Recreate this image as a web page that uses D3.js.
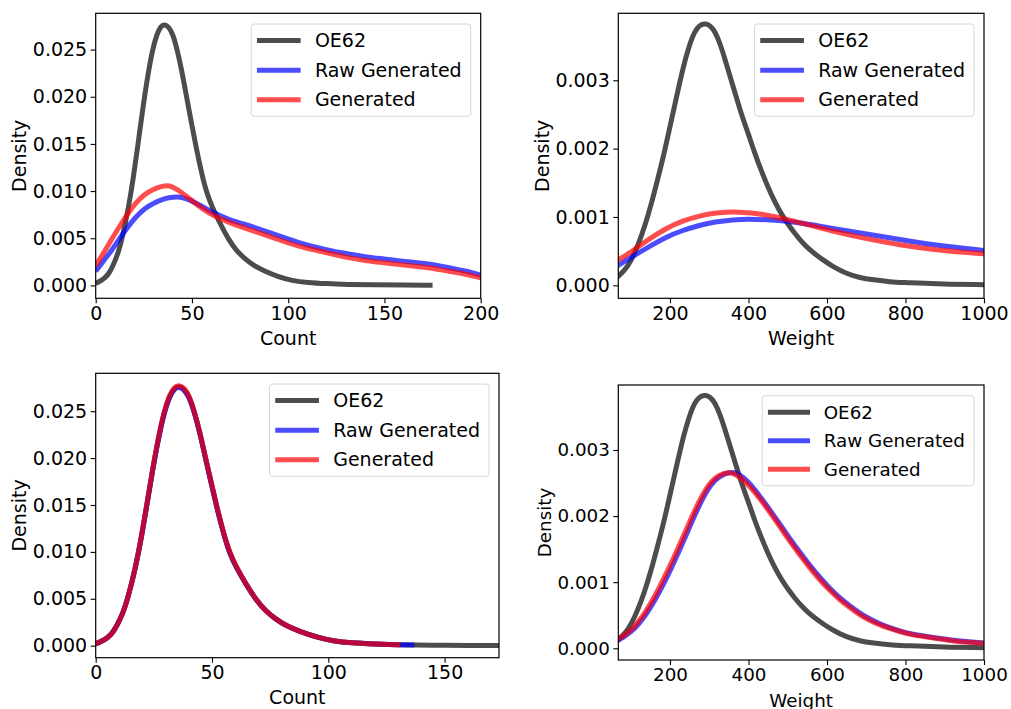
<!DOCTYPE html>
<html>
<head>
<meta charset="utf-8">
<script src="https://cdn.jsdelivr.net/npm/d3@7"></script>
<style>
  html, body { margin: 0; padding: 0; background: #fff; }
  svg { display: block; }
  svg text { font-family: "DejaVu Sans", sans-serif; }
</style>
</head>
<body>
<div id="chart"></div>
<script>
// series names + colours of the legend
const seriesNames = ["OE62", "Raw Generated", "Generated"];
const seriesColors = ["#000000", "#0000ff", "#ff0000"];

// tick values
const countTicksA = [0, 50, 100, 150, 200];
const countTicksC = [0, 50, 100, 150];
const weightTicks = [200, 400, 600, 800, 1000];
const countDensityTicks = [0, 0.005, 0.010, 0.015, 0.020, 0.025];
const weightDensityTicks = [0, 0.001, 0.002, 0.003];

// OE62 density of atom count
const countOE62 = [[0,0.0002],[3,0.0005],[6.6,0.0011],[9,0.0021],[11.5,0.0033],[14,0.0052],[17,0.0082],[19.5,0.0113],
  [22,0.0150],[24.5,0.0188],[27,0.0222],[29.5,0.0250],[31.7,0.0266],[33.8,0.0275],[35.8,0.0277],[38,0.0274],
  [40.2,0.0266],[42.4,0.0249],[44.6,0.0229],[47,0.0202],[49.5,0.0175],[52,0.0148],[55,0.0119],[57.5,0.0099],
  [60.3,0.0084],[64.5,0.0066],[68.9,0.0049],[73,0.0037],[77.6,0.0028],[82,0.0021],[87.9,0.0015],[95,0.0009],
  [102,0.0005],[110,0.0003],[120,0.00018],[130,0.0001],[145,0.00005],[160,0.00003],[175,0.00002]];

// top-left: raw generated / generated count density
const countRawA = [[0,0.0015],[4,0.0026],[8.3,0.0037],[12.5,0.0050],[17,0.0063],[21,0.0073],[25.6,0.0082],[30,0.0087],
  [34.3,0.0091],[38,0.0093],[42.1,0.0094],[46,0.0093],[51.6,0.0088],[56,0.0083],[60.3,0.0078],[64.5,0.0074],
  [68.9,0.0070],[77,0.0065],[86.2,0.0059],[97,0.0051],[106.1,0.0045],[115,0.0040],[123.5,0.0036],[132,0.0033],
  [140.8,0.0030],[150,0.0028],[158,0.0026],[167,0.0024],[175.4,0.0022],[183,0.0019],[190,0.0016],[195,0.0014],
  [200,0.0011]];
const countGenA = [[0,0.0021],[4,0.0034],[8.3,0.0049],[12.5,0.0063],[17,0.0077],[21,0.0088],[25.6,0.0097],[30,0.0102],
  [34.3,0.0105],[37,0.0106],[39.5,0.0105],[43,0.0101],[48.1,0.0093],[53,0.0085],[58.5,0.0077],[63.5,0.0072],
  [68.9,0.0067],[77,0.0061],[86.2,0.0055],[97,0.0047],[106,0.0041],[115,0.0037],[123.5,0.0033],[132,0.0029],
  [140.8,0.0026],[150,0.0024],[158,0.0022],[167,0.0020],[175.4,0.0018],[183,0.0015],[190,0.0013],[195,0.00105],
  [200,0.0008]];

// bottom-left: after fitting, nearly on top of OE62
const countRawC = [[0,0.0002],[3,0.0005],[6.6,0.0011],[9,0.0021],[11.5,0.0033],[14,0.0052],[17,0.0082],[19.5,0.0113],
  [22,0.0150],[24.5,0.0188],[27,0.0221],[29.5,0.0249],[31.7,0.0265],[33.8,0.0274],[35.8,0.0276],[38,0.0273],
  [40.2,0.0265],[42.4,0.0249],[44.6,0.0229],[47,0.0202],[49.5,0.0175],[52,0.0148],[55,0.0119],[57.5,0.0099],
  [60.3,0.0084],[64.5,0.0066],[68.9,0.0049],[73,0.0037],[77.6,0.0028],[82,0.0021],[87.9,0.0015],[95,0.0009],
  [102,0.0005],[110,0.0003],[120,0.00018],[130,0.0001],[137,0.00008]];
const countGenC = [[0,0.0002],[3,0.0005],[6.6,0.0011],[9,0.0021],[11.5,0.0033],[14,0.0052],[17,0.0082],[19.5,0.0114],
  [22,0.0151],[24.5,0.0189],[27,0.0223],[29.5,0.0251],[31.7,0.0267],[33.8,0.0276],[35.8,0.0278],[38,0.0275],
  [40.2,0.0267],[42.4,0.0250],[44.6,0.0230],[47,0.0203],[49.5,0.0176],[52,0.0149],[55,0.0120],[57.5,0.0100],
  [60.3,0.0085],[64.5,0.0066],[68.9,0.0049],[73,0.0037],[77.6,0.0028],[82,0.0021],[87.9,0.0015],[95,0.0009],
  [102,0.0005],[110,0.0003],[120,0.00018],[131,0.0001]];

// OE62 density of molecular weight
const weightOE62 = [[60,0.00009],[68,0.00013],[85,0.00022],[101,0.00036],[118,0.00058],[135,0.00085],[152,0.00118],
  [169,0.00156],[186,0.00195],[203,0.0024],[221,0.00287],[234,0.0032],[247,0.00347],[258,0.00365],[268,0.00376],
  [280,0.00382],[291,0.00383],[303,0.0038],[315,0.00371],[328,0.00353],[340,0.00331],[353,0.00306],[366,0.00281],
  [382,0.0025],[400,0.00221],[416,0.00193],[433,0.00167],[450,0.00143],[467,0.00122],[484,0.00104],[501,0.00089],
  [518,0.00076],[535,0.00064],[552,0.00054],[569,0.00046],[590,0.00037],[616,0.00027],[650,0.00017],[684,0.00011],
  [718,0.00008],[760,0.00005],[803,0.00004],[871,0.00002],[1000,0.00001]];

// top-right: raw generated / generated weight density
const weightRawB = [[60,0.00026],[68,0.00029],[106.6,0.00043],[144.7,0.00056],[191.5,0.00071],[229.5,0.0008],
  [276.4,0.00088],[314.6,0.00093],[361.4,0.00096],[399.5,0.00097],[446.3,0.00096],[501,0.00094],[569.4,0.00088],
  [616.1,0.00083],[701,0.00075],[786,0.00067],[871,0.00059],[1000,0.00051]];
const weightGenB = [[60,0.00034],[68,0.00037],[106.6,0.00051],[144.7,0.00067],[191.5,0.00084],[229.5,0.00094],
  [276.4,0.00102],[314.6,0.00106],[374,0.00108],[442,0.00104],[501,0.00096],[569.4,0.00086],[616.1,0.00079],
  [701,0.00068],[786,0.00059],[871,0.00052],[1000,0.00046]];

// bottom-right: after fitting
const weightRawD = [[60,0.00009],[67.5,0.00012],[84,0.00018],[101.4,0.00025],[118,0.00035],[135.5,0.00048],[152,0.00063],
  [169.4,0.00081],[186,0.001],[203.4,0.00121],[220,0.00143],[237.4,0.00166],[254,0.00189],[271.3,0.00212],
  [288,0.00232],[305.3,0.00249],[325,0.0026],[352,0.00267],[370,0.00265],[386,0.00259],[404,0.00249],[429,0.0023],
  [455,0.00209],[480,0.00188],[505,0.00166],[531,0.00145],[557,0.00125],[582,0.00107],[608,0.0009],[633,0.00076],
  [659,0.00064],[684,0.00053],[710,0.00044],[735,0.00037],[760,0.00031],[786,0.00026],[820,0.00021],[854,0.00018],
  [888,0.00015],[922,0.00012],[960,0.0001],[1000,0.00008]];
const weightGenD = [[60,0.0001],[67.5,0.000136],[84,0.0002],[101.4,0.00028],[118,0.00039],[135.5,0.00053],[152,0.00069],
  [169.4,0.00088],[186,0.00108],[203.4,0.00129],[220,0.00151],[237.4,0.00174],[254,0.00197],[271.3,0.00219],
  [288,0.00238],[305.3,0.00253],[325,0.00262],[347.8,0.00267],[365,0.00264],[381.7,0.00257],[400,0.00247],
  [429,0.00227],[455,0.00205],[480,0.00184],[505,0.00162],[531,0.00141],[557,0.00121],[582,0.00103],[608,0.00087],
  [633,0.00073],[659,0.00061],[684,0.0005],[710,0.00042],[735,0.00035],[760,0.0003],[786,0.00025],[820,0.0002],
  [854,0.00017],[888,0.00014],[922,0.00011],[960,0.00009],[1000,0.000075]];

const svg = d3.select("#chart").append("svg")
  .attr("width", 1011)
  .attr("height", 709);

// each panel: frame box in px + domains
const panels = [
  { id: "a", left: 95.7, top: 13.3, right: 480.7, bottom: 298.3,
    xDomain: [0, 200], yDomain: [-0.00137, 0.02885], xTicks: countTicksA, yTicks: countDensityTicks,
    xLabel: "Count", series: [countOE62, countRawA, countGenA], font: 19, yLabelOff: 70 },
  { id: "b", left: 618.3, top: 13.3, right: 984, bottom: 298.3,
    xDomain: [68.3, 1000], yDomain: [-0.00019, 0.00398], xTicks: weightTicks, yTicks: weightDensityTicks,
    xLabel: "Weight", series: [weightOE62, weightRawB, weightGenB], font: 19, yLabelOff: 69.5 },
  { id: "c", left: 95.7, top: 373.3, right: 499, bottom: 657.7,
    xDomain: [0, 173.4], yDomain: [-0.00128, 0.02904], xTicks: countTicksC, yTicks: countDensityTicks,
    xLabel: "Count", series: [countOE62, countRawC, countGenC], font: 19, yLabelOff: 70 },
  { id: "d", left: 618.3, top: 385, right: 984, bottom: 660,
    xDomain: [68.3, 1000], yDomain: [-0.000177, 0.003983], xTicks: weightTicks, yTicks: weightDensityTicks,
    xLabel: "Weight", series: [weightOE62, weightRawD, weightGenD], font: 18.3, yLabelOff: 67 }
];

panels.forEach(p => {
  const w = p.right - p.left, h = p.bottom - p.top;
  const x = d3.scaleLinear().domain(p.xDomain).range([0, w]);
  const y = d3.scaleLinear().domain(p.yDomain).range([h, 0]);

  const g = svg.append("g").attr("transform", `translate(${p.left},${p.top})`);

  svg.append("clipPath").attr("id", "clip-" + p.id)
    .append("rect").attr("width", w).attr("height", h);

  // basis spline smooths out the reading noise of the points
  const line = d3.line()
    .x(d => x(d[0]))
    .y(d => y(d[1]))
    .curve(d3.curveBasis);

  g.append("g").attr("clip-path", `url(#clip-${p.id})`)
    .selectAll("path")
    .data(p.series)
    .join("path")
    .attr("d", line)
    .attr("fill", "none")
    .attr("stroke", (d, i) => seriesColors[i])
    .attr("stroke-opacity", 0.7)
    .attr("stroke-width", 5)
    .attr("stroke-linecap", "butt")
    .attr("stroke-linejoin", "round");

  // axes
  const xAxis = g.append("g").attr("transform", `translate(0,${h})`)
    .call(d3.axisBottom(x).tickValues(p.xTicks).tickFormat(d3.format("d")).tickSize(5).tickPadding(3));
  const yAxis = g.append("g")
    .call(d3.axisLeft(y).tickValues(p.yTicks).tickFormat(d3.format(".3f")).tickSize(5).tickPadding(3.5));
  [xAxis, yAxis].forEach(a => {
    a.attr("font-family", "DejaVu Sans, sans-serif").attr("font-size", p.font);
    a.select(".domain").remove();
    a.selectAll("line").attr("stroke", "#000").attr("stroke-width", 1.1);
    a.selectAll("text").attr("fill", "#000").style("font-size", p.font + "px");
  });

  // frame
  g.append("rect")
    .attr("width", w).attr("height", h)
    .attr("fill", "none").attr("stroke", "#000").attr("stroke-width", 1.2);

  // labels
  g.append("text")
    .attr("x", w / 2).attr("y", h + 46.5)
    .attr("text-anchor", "middle")
    .style("font-size", p.font + "px")
    .text(p.xLabel);
  g.append("text")
    .attr("transform", `translate(${-p.yLabelOff},${h / 2}) rotate(-90)`)
    .attr("text-anchor", "middle")
    .style("font-size", p.font + "px")
    .text("Density");

  // legend
  const rowH = p.font * 1.56;
  const leg = g.append("g");
  const box = leg.append("rect")
    .attr("fill", "#fff").attr("fill-opacity", 0.8)
    .attr("stroke", "#d6d6d6").attr("stroke-width", 1)
    .attr("rx", 3);
  const items = leg.selectAll("g.item")
    .data(seriesNames)
    .join("g")
    .attr("class", "item")
    .attr("transform", (d, i) => `translate(0,${i * rowH})`);
  items.append("line")
    .attr("x1", 5.7).attr("x2", 5.7 + 2.3 * p.font)
    .attr("stroke", (d, i) => seriesColors[i])
    .attr("stroke-opacity", 0.7)
    .attr("stroke-width", 5);
  items.append("text")
    .attr("x", 5.7 + 3.05 * p.font)
    .attr("dy", "0.35em")
    .style("font-size", p.font + "px")
    .text(d => d);
  let maxW = 0;
  items.selectAll("text").each(function() { maxW = Math.max(maxW, this.getComputedTextLength()); });
  const boxW = 5.7 + 3.05 * p.font + maxW + 9;
  const boxH = 2 * rowH + 2 * 16.5;
  box.attr("x", 0).attr("y", -16.5).attr("width", boxW).attr("height", boxH);
  leg.attr("transform", `translate(${w - 10 - boxW},${10.7 + 16.5})`);
});
</script>
</body>
</html>
